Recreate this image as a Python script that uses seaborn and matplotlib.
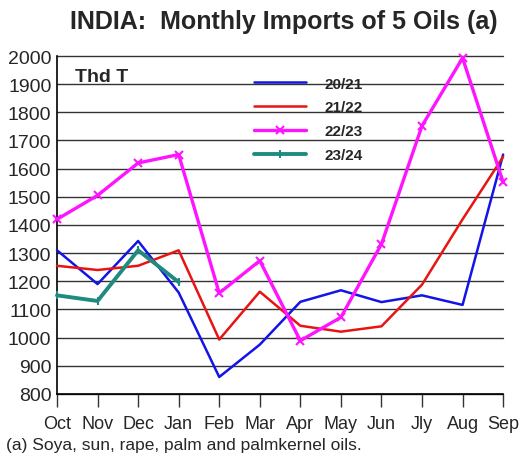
import matplotlib
matplotlib.use("Agg")
import matplotlib.pyplot as plt
import seaborn as sns
import pandas as pd
import numpy as np

months = ["Oct", "Nov", "Dec", "Jan", "Feb", "Mar", "Apr", "May", "Jun", "Jly", "Aug", "Sep"]
s2021 = [1310, 1190, 1343, 1160, 860, 975, 1127, 1168, 1126, 1150, 1116, 1650]
s2122 = [1255, 1240, 1255, 1310, 993, 1163, 1042, 1021, 1040, 1188, 1420, 1642]
s2223 = [1420, 1505, 1620, 1650, 1158, 1273, 989, 1072, 1332, 1752, 1993, 1552]
s2324 = [1150, 1130, 1310, 1197]
series_names = ["20/21", "21/22", "22/23", "23/24"]
yticks = list(range(800, 2001, 100))

sns.set_theme(style="white")
plt.rcParams["font.family"] = ["Liberation Sans", "DejaVu Sans"]

fig = plt.figure(figsize=(5.23, 4.56), dpi=100)
ax = fig.add_axes([0.109, 0.134, 0.853, 0.741])

styles = {
    "20/21": dict(color="#1414e6", lw=1.8, marker=None),
    "21/22": dict(color="#e81414", lw=1.8, marker=None),
    "22/23": dict(color="#ff14ff", lw=2.4, marker="x"),
    "23/24": dict(color="#1f8a80", lw=2.8, marker="|"),
}
data = [s2021, s2122, s2223, s2324]
for name, vals in zip(series_names, data):
    df = pd.DataFrame({"x": np.arange(len(vals)), "y": vals})
    st = styles[name]
    kw = {}
    if st["marker"]:
        kw = dict(marker=st["marker"], markersize=6, markeredgewidth=1.5,
                  markeredgecolor=st["color"])
    sns.lineplot(data=df, x="x", y="y", ax=ax, color=st["color"], lw=st["lw"],
                 label=name, sort=False, clip_on=False, zorder=3, **kw)

ax.set_xlim(0, 11)
ax.set_ylim(800, 2000)
ax.set_yticks(yticks)
ax.set_yticklabels([str(v) for v in yticks], fontsize=14)
ax.set_xticks(range(12))
ax.set_xticklabels(months, fontsize=13)
for v in yticks:
    ax.axhline(v, color="#333333", lw=1.0, zorder=1, clip_on=False)
for side in ["top", "right"]:
    ax.spines[side].set_visible(False)
ax.spines["left"].set_color("black")
ax.spines["bottom"].set_color("black")
ax.spines["left"].set_linewidth(1.2)
ax.spines["bottom"].set_linewidth(1.2)
ax.tick_params(axis="x", direction="out", length=9, width=1.0, color="#333333",
               bottom=True, pad=6)
ax.tick_params(axis="y", length=0, pad=4)
ax.set_xlabel("")
ax.set_ylabel("")
ax.set_facecolor("white")

leg = ax.legend(loc="upper left", bbox_to_anchor=(0.41, 0.98), frameon=False,
                fontsize=11, handlelength=3.4, handletextpad=1.25, labelspacing=0.65)
for t in leg.get_texts():
    t.set_fontweight("bold")

ax.text(0.04, 0.965, "Thd T", transform=ax.transAxes, fontsize=14,
        fontweight="bold", va="top", ha="left")

fig.text(0.543, 0.952, "INDIA:  Monthly Imports of 5 Oils (a)", fontsize=18,
         fontweight="bold", ha="center", va="center")
fig.text(0.012, 0.022, "(a) Soya, sun, rape, palm and palmkernel oils.",
         fontsize=12.5, ha="left", va="center")

fig.savefig("out.png", dpi=100, facecolor="white")
